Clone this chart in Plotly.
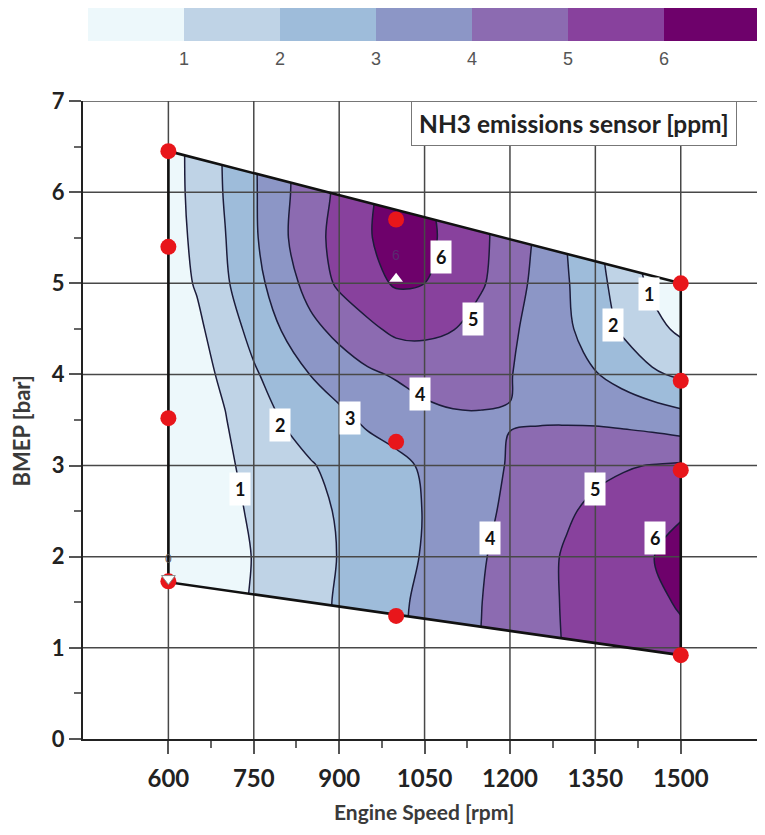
import plotly.graph_objects as go

# ---------------- data ----------------
speed = [600, 650, 700, 750, 800, 850, 900, 950, 1000, 1050, 1100, 1150, 1200,
         1250, 1300, 1350, 1400, 1450, 1500]
bmep = [0.5, 1.0, 1.5, 2.0, 2.5, 3.0, 3.5, 4.0, 4.5, 5.0, 5.5, 6.0, 6.5]
# NH3 [ppm], one row per BMEP value
nh3 = [
    [0.15, 0.45, 0.72, 1.07, 1.40, 1.75, 2.10, 2.47, 2.85, 3.25, 3.63, 4.02, 4.40, 4.78, 5.03, 5.22, 5.40, 5.55, 5.70],
    [0.15, 0.45, 0.72, 1.07, 1.40, 1.75, 2.10, 2.47, 2.85, 3.25, 3.63, 4.02, 4.40, 4.78, 5.05, 5.25, 5.45, 5.60, 5.75],
    [0.15, 0.45, 0.72, 1.07, 1.40, 1.74, 2.09, 2.45, 2.82, 3.20, 3.60, 3.99, 4.38, 4.77, 5.08, 5.30, 5.52, 5.78, 6.10],
    [0.15, 0.45, 0.70, 1.03, 1.36, 1.70, 2.03, 2.37, 2.71, 3.07, 3.50, 3.92, 4.32, 4.72, 5.10, 5.40, 5.65, 5.96, 6.50],
    [0.30, 0.55, 0.80, 1.10, 1.42, 1.75, 2.08, 2.39, 2.71, 3.03, 3.42, 3.80, 4.17, 4.54, 4.90, 5.18, 5.40, 5.62, 5.85],
    [0.35, 0.60, 0.87, 1.23, 1.59, 1.94, 2.24, 2.52, 2.80, 3.10, 3.43, 3.75, 4.06, 4.27, 4.55, 4.80, 4.93, 5.03, 5.12],
    [0.40, 0.65, 0.97, 1.49, 2.03, 2.40, 2.77, 3.15, 3.35, 3.65, 3.87, 3.93, 3.98, 3.96, 3.93, 3.88, 3.77, 3.62, 3.38],
    [0.45, 0.78, 1.12, 1.88, 2.47, 3.02, 3.43, 3.84, 4.10, 4.40, 4.40, 4.25, 4.03, 3.72, 3.40, 3.05, 2.61, 2.13, 1.85],
    [0.50, 0.80, 1.54, 2.30, 3.05, 3.74, 4.30, 4.78, 5.23, 5.20, 5.03, 4.61, 4.16, 3.67, 3.16, 2.50, 1.84, 1.32, 0.80],
    [0.55, 1.08, 1.87, 2.70, 3.45, 4.41, 5.16, 5.68, 6.10, 6.00, 5.53, 5.10, 4.44, 3.73, 3.07, 2.34, 1.55, 0.80, 0.40],
    [0.60, 1.19, 1.98, 2.85, 3.82, 4.65, 5.31, 5.90, 6.50, 6.25, 5.69, 5.18, 4.56, 3.85, 2.98, 2.23, 1.30, 0.70, 0.40],
    [0.60, 1.28, 2.07, 2.89, 3.78, 4.53, 5.20, 5.85, 6.40, 6.15, 5.50, 5.10, 4.69, 4.06, 2.98, 2.29, 1.45, 0.85, 0.50],
    [0.60, 1.30, 2.10, 2.90, 3.75, 4.50, 5.20, 5.80, 6.30, 6.10, 5.50, 5.10, 4.70, 4.06, 2.97, 2.30, 1.50, 0.90, 0.50],
]

# operating-range boundary (corners)
bound_x = [600, 1500, 1500, 600]
bound_y = [6.45, 5.00, 0.92, 1.72]

# measurement points
meas_x = [600, 600, 600, 600, 1000, 1000, 1000, 1500, 1500, 1500, 1500]
meas_y = [6.45, 5.40, 3.52, 1.73, 5.70, 3.26, 1.35, 5.00, 3.93, 2.95, 0.92]

tri_up_x, tri_up_y = [1000], [5.05]
tri_dn_x, tri_dn_y = [600], [1.76]

# contour labels
lab_x = [726, 796, 919, 1042, 1135, 1079, 1445, 1381, 1349, 1165, 1454]
lab_y = [2.74, 3.45, 3.52, 3.78, 4.61, 5.29, 4.88, 4.54, 2.74, 2.21, 2.21]
lab_t = ["1", "2", "3", "4", "5", "6", "1", "2", "5", "4", "6"]

x_ticks = [600, 750, 900, 1050, 1200, 1350, 1500]
x_minor = [675, 825, 975, 1125, 1275, 1425]
y_ticks = [0, 1, 2, 3, 4, 5, 6, 7]
y_minor = [0.5, 1.5, 2.5, 3.5, 4.5, 5.5, 6.5]
cbar_ticks = [1, 2, 3, 4, 5, 6]

colors = ["#edf8fb", "#bfd3e6", "#9ebcda", "#8c96c6", "#8c6bb1", "#88419d", "#6e016b"]

XR = [450, 1648]
YR = [0, 7]

# ---------------- figure ----------------
fig = go.Figure()

cs_cont = [[i / (len(colors) - 1), c] for i, c in enumerate(colors)]
fig.add_trace(go.Contour(
    x=speed, y=bmep, z=nh3,
    contours=dict(start=1, end=6, size=1, coloring="fill"),
    line=dict(color="#1c1c3a", width=1.5, smoothing=1.0),
    colorscale=cs_cont, showscale=False, hoverinfo="skip",
))

# white masks outside the operating range
ytop = max(bmep) + 0.2
ybot = min(bmep) - 0.2
fig.add_trace(go.Scatter(
    x=[bound_x[0] - 2, bound_x[1] + 2, bound_x[1] + 2, bound_x[0] - 2],
    y=[bound_y[0], bound_y[1], ytop, ytop],
    fill="toself", fillcolor="white", mode="none", hoverinfo="skip", showlegend=False))
fig.add_trace(go.Scatter(
    x=[bound_x[3] - 2, bound_x[2] + 2, bound_x[2] + 2, bound_x[3] - 2],
    y=[bound_y[3], bound_y[2], ybot, ybot],
    fill="toself", fillcolor="white", mode="none", hoverinfo="skip", showlegend=False))

# grid lines drawn on top of the fill
gx, gy = [], []
for xv in x_ticks:
    gx += [xv, xv, None]
    gy += [YR[0], YR[1], None]
for yv in y_ticks[1:]:
    gx += [XR[0], XR[1], None]
    gy += [yv, yv, None]
fig.add_trace(go.Scatter(x=gx, y=gy, mode="lines",
                         line=dict(color="#484848", width=1.5),
                         hoverinfo="skip", showlegend=False))

# boundary
fig.add_trace(go.Scatter(x=bound_x + [bound_x[0]], y=bound_y + [bound_y[0]],
                         mode="lines", line=dict(color="#111111", width=2.6),
                         hoverinfo="skip", showlegend=False))

# measurement points
fig.add_trace(go.Scatter(x=meas_x, y=meas_y, mode="markers",
                         marker=dict(color="#e8161b", size=16),
                         hoverinfo="skip", showlegend=False))
fig.add_trace(go.Scatter(x=tri_up_x, y=tri_up_y, mode="markers",
                         marker=dict(color="white", size=12, symbol="triangle-up"),
                         hoverinfo="skip", showlegend=False))
fig.add_trace(go.Scatter(x=tri_dn_x, y=tri_dn_y, mode="markers",
                         marker=dict(color="white", size=12, symbol="triangle-down",
                                     line=dict(color="#888", width=1)),
                         hoverinfo="skip", showlegend=False))

# horizontal discrete colour bar (dummy trace)
n = len(colors)
cs_bar = []
for i, c in enumerate(colors):
    cs_bar += [[i / n, c], [(i + 1) / n, c]]
fig.add_trace(go.Scatter(
    x=[None], y=[None], mode="markers", hoverinfo="skip", showlegend=False,
    marker=dict(color=[0], cmin=0, cmax=n, colorscale=cs_bar, showscale=True,
                colorbar=dict(orientation="h", x=0.5, xanchor="center",
                              y=1.145, yanchor="top", len=672, lenmode="pixels",
                              thickness=33, outlinewidth=0, xpad=0, ypad=0,
                              tickvals=cbar_ticks, ticks="outside", ticklen=3,
                              tickcolor="rgba(0,0,0,0)",
                              tickfont=dict(family="Liberation Sans", size=18, color="#555")))))

annotations = []
for lx, ly, lt in zip(lab_x, lab_y, lab_t):
    annotations.append(dict(x=lx, y=ly, xref="x", yref="y", text="<b>%s</b>" % lt,
                            showarrow=False, bgcolor="white", borderpad=5,
                            font=dict(family="Lato", size=18, color="#111")))
annotations.append(dict(x=600, y=1.98, xref="x", yref="y", text="0", showarrow=False,
                        font=dict(family="Liberation Sans", size=12, color="#555")))
annotations.append(dict(x=1000, y=5.31, xref="x", yref="y", text="6", showarrow=False,
                        font=dict(family="Liberation Sans", size=14, color="#5a2a70")))
annotations.append(dict(x=1312, y=6.755, xref="x", yref="y",
                        text="<b>NH3 emissions sensor [ppm]</b>", showarrow=False,
                        bgcolor="white", bordercolor="#777", borderwidth=1, borderpad=7,
                        font=dict(family="Lato", size=24.5, color="#222")))
annotations.append(dict(x=0.5, y=-0.114, xref="paper", yref="paper",
                        xanchor="center", yanchor="middle",
                        text="<b>Engine Speed [rpm]</b>", showarrow=False,
                        font=dict(family="Lato", size=21, color="#3a3a3a")))
annotations.append(dict(x=-0.09, y=0.483, xref="paper", yref="paper",
                        xanchor="center", yanchor="middle",
                        text="<b>BMEP [bar]</b>", showarrow=False, textangle=-90,
                        font=dict(family="Lato", size=22, color="#3a3a3a")))

fig.update_layout(
    width=757, height=827,
    margin=dict(l=75, r=0, t=90, b=96),
    paper_bgcolor="white", plot_bgcolor="white",
    showlegend=False,
    annotations=annotations,
    xaxis=dict(range=XR, tickvals=x_ticks, showgrid=False, zeroline=False,
               showline=True, linecolor="#222", linewidth=2,
               ticks="outside", ticklen=13, tickwidth=1.5, tickcolor="#555",
               ticklabelstandoff=4,
               minor=dict(tickvals=x_minor, ticks="outside", ticklen=7, tickcolor="#666", showgrid=False),
               tickfont=dict(family="Lato", size=24, color="#222", weight="bold")),
    yaxis=dict(range=YR, tickvals=y_ticks, showgrid=False, zeroline=False,
               showline=True, linecolor="#222", linewidth=2,
               ticks="outside", ticklen=12, tickwidth=1.5, tickcolor="#555",
               minor=dict(tickvals=y_minor, ticks="outside", ticklen=7, tickcolor="#666", showgrid=False),
               tickfont=dict(family="Lato", size=22, color="#222", weight="bold")),
)

fig.write_html("out.html")
